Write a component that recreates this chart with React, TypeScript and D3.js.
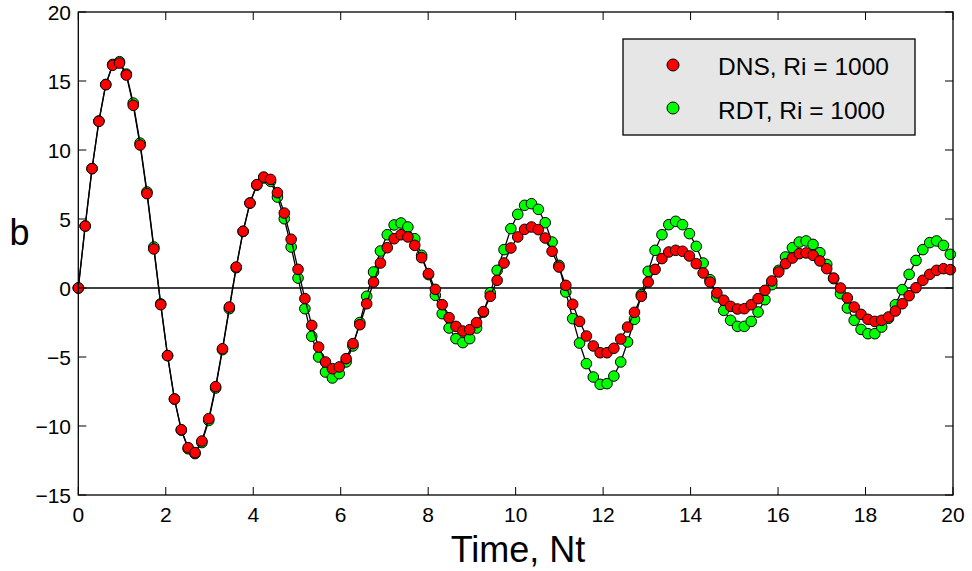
import React from "react";
import * as d3 from "d3";

const DT = 0.157;
const X_TICKS = [0, 2, 4, 6, 8, 10, 12, 14, 16, 18, 20];
const Y_TICKS = [-15, -10, -5, 0, 5, 10, 15, 20];

const DNS = [
  0, 4.49, 8.65, 12.08, 14.73, 16.14, 16.3, 15.43, 13.24, 10.36,
  6.84, 2.83, -1.21, -4.9, -8.04, -10.27, -11.57, -11.93, -11.09, -9.47,
  -7.15, -4.4, -1.38, 1.52, 4.11, 6.16, 7.49, 8.04, 7.87, 6.91,
  5.43, 3.53, 1.35, -0.77, -2.71, -4.28, -5.36, -5.85, -5.72, -5.12,
  -4.03, -2.66, -1.14, 0.43, 1.81, 2.92, 3.57, 3.86, 3.7, 3.09,
  2.2, 1.04, -0.1, -1.21, -2.15, -2.78, -3.12, -3.02, -2.51, -1.71,
  -0.6, 0.56, 1.81, 2.9, 3.7, 4.25, 4.42, 4.23, 3.62, 2.66,
  1.52, 0.19, -1.18, -2.42, -3.48, -4.2, -4.69, -4.69, -4.37, -3.7,
  -2.83, -1.76, -0.6, 0.43, 1.35, 2.13, 2.61, 2.73, 2.66, 2.32,
  1.76, 1.09, 0.43, -0.36, -0.89, -1.33, -1.52, -1.5, -1.21, -0.77,
  -0.17, 0.51, 1.16, 1.76, 2.17, 2.49, 2.54, 2.37, 1.96, 1.4,
  0.72, 0.0, -0.72, -1.38, -1.91, -2.27, -2.42, -2.34, -2.1, -1.67,
  -1.14, -0.56, 0.02, 0.56, 0.99, 1.28, 1.4, 1.33,
];

const RDT = [
  0, 4.49, 8.65, 12.1, 14.75, 16.2, 16.4, 15.5, 13.4, 10.5,
  6.96, 2.97, -1.15, -4.9, -8.05, -10.3, -11.65, -12.0, -11.2, -9.6,
  -7.25, -4.47, -1.5, 1.47, 4.1, 6.15, 7.45, 7.97, 7.73, 6.59,
  5.02, 2.97, 0.72, -1.5, -3.5, -5.0, -6.09, -6.52, -6.21, -5.36,
  -4.2, -2.5, -0.6, 1.16, 2.68, 3.86, 4.57, 4.71, 4.42, 3.57,
  2.37, 0.97, -0.53, -1.86, -2.9, -3.67, -3.96, -3.67, -2.9, -1.75,
  -0.35, 1.28, 2.78, 4.3, 5.34, 5.99, 6.11, 5.7, 4.73, 3.33,
  1.64, -0.29, -2.22, -3.99, -5.48, -6.45, -6.98, -6.93, -6.38, -5.36,
  -3.91, -2.27, -0.48, 1.21, 2.73, 3.86, 4.59, 4.83, 4.59, 3.94,
  3.02, 1.81, 0.6, -0.65, -1.62, -2.34, -2.78, -2.78, -2.42, -1.74,
  -0.85, 0.24, 1.28, 2.25, 2.92, 3.33, 3.41, 3.16, 2.56, 1.71,
  0.68, -0.41, -1.45, -2.34, -3.0, -3.31, -3.31, -2.83, -2.2, -1.21,
  -0.12, 0.99, 2.0, 2.78, 3.29, 3.41, 3.09, 2.44,
];

const TIME = DNS.map((_, i) => i * DT);

const SERIES = [
  { name: "RDT, Ri = 1000", values: RDT, color: "#00ff00" },
  { name: "DNS, Ri = 1000", values: DNS, color: "#ff0000" },
];
const LEGEND = [
  { name: "DNS, Ri = 1000", color: "#ff0000" },
  { name: "RDT, Ri = 1000", color: "#00ff00" },
];

const W = 972;
const H = 571;
const M = { left: 78.3, right: 953, top: 12, bottom: 495 };
const FONT = "'Liberation Sans', Arial, Helvetica, sans-serif";

export default function App() {
  const x = d3.scaleLinear().domain([0, 20]).range([M.left, M.right]);
  const y = d3.scaleLinear().domain([-15, 20]).range([M.bottom, M.top]);
  const line = d3
    .line<number>()
    .x((_, i) => x(TIME[i]))
    .y((d) => y(d));
  const TL = 8;

  return (
    <svg
      width={W}
      height={H}
      style={{ position: "absolute", left: 0, top: 0, background: "#fff" }}
      fontFamily={FONT}
    >
      <rect x={0} y={0} width={W} height={H} fill="#fff" />
      {/* zero line */}
      <line x1={x(0)} x2={x(20)} y1={y(0)} y2={y(0)} stroke="#000" strokeWidth={1.3} />
      {/* series */}
      {SERIES.map((s) => (
        <g key={s.name}>
          <path d={line(s.values) || ""} fill="none" stroke="#000" strokeWidth={1.3} />
          {s.values.map((v, i) => (
            <circle
              key={i}
              cx={x(TIME[i])}
              cy={y(v)}
              r={5.3}
              fill={s.color}
              stroke="#000"
              strokeWidth={1}
            />
          ))}
        </g>
      ))}
      {/* axes box */}
      <rect
        x={M.left}
        y={M.top}
        width={M.right - M.left}
        height={M.bottom - M.top}
        fill="none"
        stroke="#000"
        strokeWidth={1.3}
      />
      {X_TICKS.map((t) => (
        <g key={"x" + t}>
          <line x1={x(t)} x2={x(t)} y1={M.bottom} y2={M.bottom - TL} stroke="#000" strokeWidth={1} />
          <line x1={x(t)} x2={x(t)} y1={M.top} y2={M.top + TL} stroke="#000" strokeWidth={1} />
          <text x={x(t)} y={M.bottom + 27} textAnchor="middle" fontSize={21} fill="#000">
            {t}
          </text>
        </g>
      ))}
      {Y_TICKS.map((t) => (
        <g key={"y" + t}>
          <line x1={M.left} x2={M.left + TL} y1={y(t)} y2={y(t)} stroke="#000" strokeWidth={1} />
          <line x1={M.right} x2={M.right - TL} y1={y(t)} y2={y(t)} stroke="#000" strokeWidth={1} />
          <text x={71} y={y(t) + 8} textAnchor="end" fontSize={21} fill="#000">
            {t < 0 ? "\u2212" + Math.abs(t) : String(t)}
          </text>
        </g>
      ))}
      {/* axis labels */}
      <text x={518} y={562} textAnchor="middle" fontSize={36} fill="#000">
        Time, Nt
      </text>
      <text x={19.5} y={245} textAnchor="middle" fontSize={36} fill="#000">
        b
      </text>
      {/* legend */}
      <rect x={623} y={39} width={292} height={96} fill="#e6e6e6" stroke="#000" strokeWidth={1.3} />
      {LEGEND.map((l, i) => (
        <g key={l.name}>
          <circle cx={673} cy={65 + i * 43} r={6} fill={l.color} stroke="#000" strokeWidth={1} />
          <text x={718} y={75 + i * 43.5} fontSize={24.5} fill="#000">
            {l.name}
          </text>
        </g>
      ))}
    </svg>
  );
}
